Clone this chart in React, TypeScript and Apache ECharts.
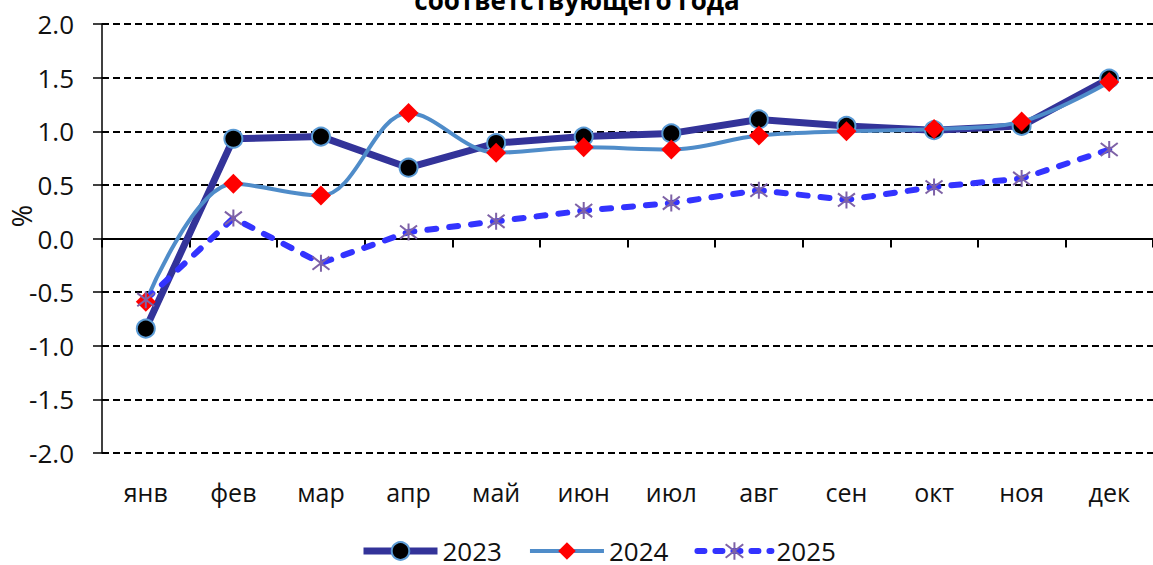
import React, { useEffect, useRef } from "react";
import * as echarts from "echarts";

const months = ["янв", "фев", "мар", "апр", "май", "июн", "июл", "авг", "сен", "окт", "ноя", "дек"];
const s2023 = [-0.84, 0.93, 0.95, 0.66, 0.89, 0.95, 0.98, 1.11, 1.05, 1.01, 1.05, 1.49];
const s2024 = [-0.59, 0.51, 0.4, 1.17, 0.8, 0.85, 0.83, 0.96, 1.0, 1.02, 1.09, 1.46];
const s2025 = [-0.57, 0.19, -0.23, 0.06, 0.16, 0.26, 0.33, 0.45, 0.36, 0.48, 0.56, 0.83];
const seriesNames = ["2023", "2024", "2025"];
const titleText = "соответствующего года";
const yName = "%";

const FONT = '"Open Sans", "Noto Sans", sans-serif';
const ASTERISK = "path://M0 0L10 10M10 0L0 10M5 -1.5L5 11.5";
const DASH = [9, 13];

export default function App() {
  const ref = useRef<HTMLDivElement>(null);
  useEffect(() => {
    if (!ref.current) return;
    const chart = echarts.init(ref.current, undefined, { renderer: "svg" });
    chart.setOption({
      animation: false,
      backgroundColor: "#ffffff",
      textStyle: { fontFamily: FONT },
      grid: { left: 102, right: -2, top: 24, bottom: 112, containLabel: false },
      graphic: [
        {
          type: "text",
          x: 577,
          y: 0,
          style: {
            text: titleText,
            fontFamily: FONT,
            fontSize: 26,
            fontWeight: "bold",
            fill: "#000",
            align: "center",
            verticalAlign: "middle",
          },
        },
        {
          type: "text",
          x: 21,
          y: 216,
          rotation: Math.PI / 2,
          style: {
            text: yName,
            fontFamily: FONT,
            fontSize: 27,
            fill: "#111",
            align: "center",
            verticalAlign: "middle",
          },
        },
      ],
      legend: {
        top: 533,
        left: 355,
        itemWidth: 74,
        itemHeight: 22,
        itemGap: 26,
        textStyle: { fontFamily: FONT, fontSize: 26, color: "#111" },
        data: [
          { name: seriesNames[0], lineStyle: { width: 7, color: "#333399" } },
          { name: seriesNames[1], lineStyle: { width: 4, color: "#4f8cc9" } },
          { name: seriesNames[2], lineStyle: { width: 6, color: "#3333ff", type: [7, 11], cap: "round" } },
        ],
      },
      xAxis: [
        {
          type: "category",
          data: months,
          position: "bottom",
          axisLine: { show: false, onZero: false },
          axisTick: { show: false },
          axisLabel: { fontFamily: FONT, fontSize: 25, color: "#111", margin: 26 },
          splitLine: { show: false },
        },
        {
          type: "category",
          data: months,
          position: "top",
          axisLine: { show: true, onZero: true, onZeroAxisIndex: 0, lineStyle: { color: "#000", width: 2 } },
          axisTick: { show: true, inside: true, length: 9, lineStyle: { color: "#000", width: 2 } },
          axisLabel: { show: false },
          splitLine: { show: false },
        },
      ],
      yAxis: {
        type: "value",
        min: -2,
        max: 2,
        interval: 0.5,
        axisLine: { show: true, lineStyle: { color: "#000", width: 1.5 } },
        axisTick: { show: true, length: 9, lineStyle: { color: "#000", width: 1.5 } },
        axisLabel: {
          fontFamily: FONT,
          fontSize: 26,
          color: "#111",
          margin: 28,
          formatter: (v: number) => v.toFixed(1),
        },
        splitLine: { show: true, lineStyle: { color: "#000", width: 2, type: [7, 4] } },
      },
      series: [
        {
          name: seriesNames[0],
          type: "line",
          data: s2023,
          xAxisIndex: 0,
          lineStyle: { color: "#333399", width: 7 },
          symbol: "circle",
          symbolSize: 18,
          itemStyle: { color: "#000000", borderColor: "#5b9bd5", borderWidth: 2 },
        },
        {
          name: seriesNames[1],
          type: "line",
          data: s2024,
          xAxisIndex: 0,
          smooth: 0.35,
          lineStyle: { color: "#4f8cc9", width: 4 },
          symbol: "diamond",
          symbolSize: 20,
          itemStyle: { color: "#ff0000", borderColor: "#ff0000", borderWidth: 0 },
        },
        {
          name: seriesNames[2],
          type: "line",
          data: s2025,
          xAxisIndex: 0,
          lineStyle: { color: "#3333ff", width: 6, type: DASH, cap: "round" },
          symbol: ASTERISK,
          symbolSize: 17,
          itemStyle: { color: "#7e62a6", borderColor: "#7e62a6", borderWidth: 2 },
        },
      ],
    });
    return () => chart.dispose();
  }, []);
  return (
    <div
      ref={ref}
      style={{ position: "fixed", left: 0, top: 0, width: 1153, height: 565, background: "#fff" }}
    />
  );
}
